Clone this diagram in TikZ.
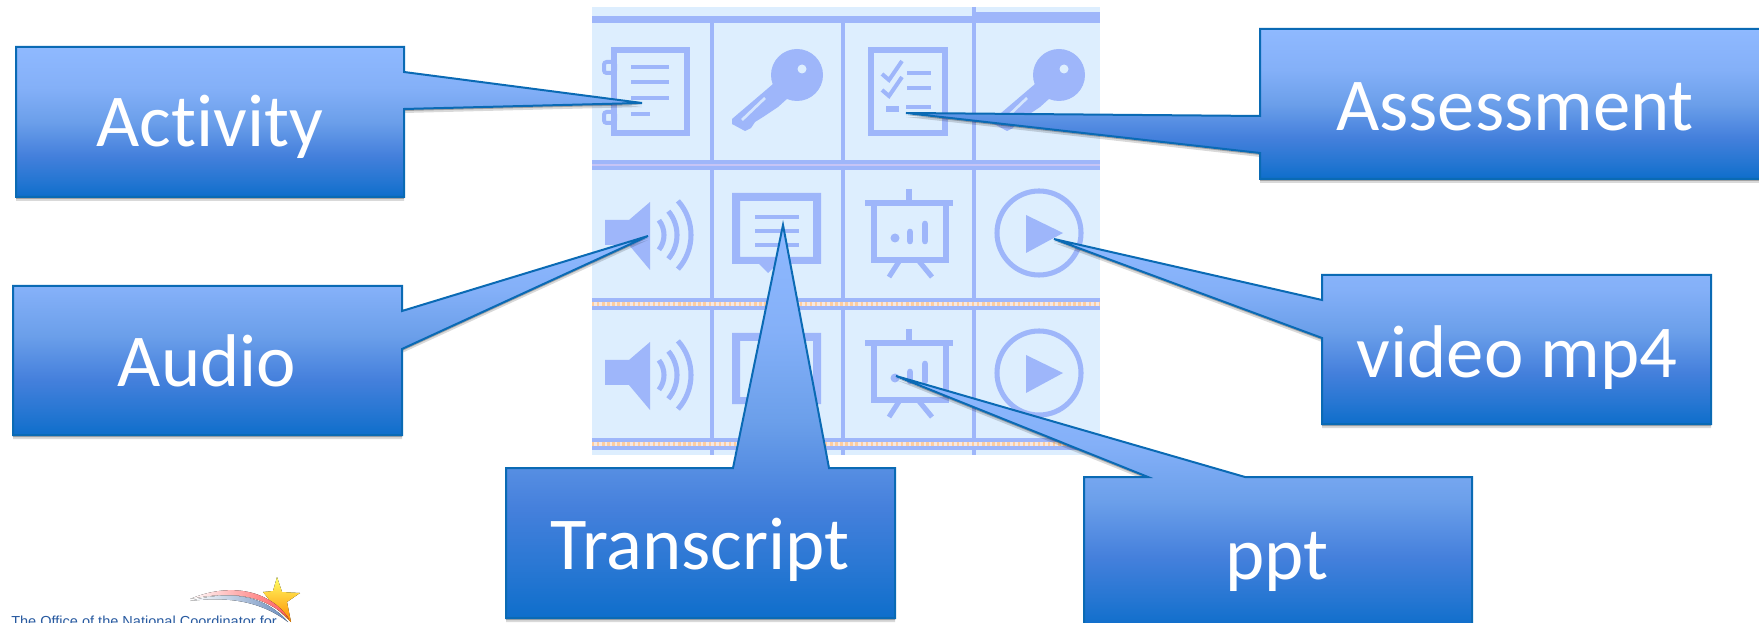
\documentclass[tikz,border=0pt]{standalone}
\usepackage{fontspec}
\setmainfont[Ligatures=NoCommon]{Carlito}
\newfontfamily\logofont{Liberation Sans}
\usetikzlibrary{shadows}

\definecolor{panelblue}{RGB}{221,238,254}
\definecolor{iconblue}{RGB}{158,182,250}
\definecolor{bandlilac}{RGB}{198,196,246}
\definecolor{bandorange}{RGB}{255,205,160}
\definecolor{bandpale}{RGB}{246,232,226}
\definecolor{calloutline}{RGB}{10,106,180}
\definecolor{callouttop}{RGB}{143,185,255}
\definecolor{calloutupper}{RGB}{132,176,248}
\definecolor{calloutmid}{RGB}{107,159,234}
\definecolor{calloutlower}{RGB}{69,128,220}
\definecolor{calloutdeep}{RGB}{37,118,210}
\definecolor{calloutbottom}{RGB}{14,110,203}
\definecolor{logoblue}{RGB}{40,90,160}

\pgfdeclareverticalshading{calloutfill}{100bp}{color(0bp)=(calloutbottom); color(25bp)=(calloutbottom); color(30.5bp)=(calloutdeep); color(39bp)=(calloutlower); color(50bp)=(calloutmid); color(61.5bp)=(calloutupper); color(75bp)=(callouttop); color(100bp)=(callouttop)}

\tikzset{
  callout/.style={draw=calloutline,line width=1.5pt,line join=miter,shade,shading=calloutfill,drop shadow={shadow xshift=0pt,shadow yshift=-3pt,opacity=0.15,fill=black},drop shadow={shadow xshift=0pt,shadow yshift=-1.5pt,opacity=0.25,fill=black}},
  calloutlabel/.style={anchor=base,inner sep=0.75pt,text=white,font=\fontsize{56}{66}\selectfont},
  iconline/.style={draw=iconblue,line width=3.8pt},
  iconthin/.style={draw=iconblue,line width=3pt},
  iconfill/.style={fill=iconblue},
  bandline/.style={draw=iconblue,line width=2.5pt},
}

\newcommand{\drawkey}{
  \fill [iconfill] (794,75) circle (26);
  \fill [iconfill] (770,84) -- (729,119) -- (729,124) -- (742,131) -- (748,128) -- (752,122) -- (760,117) -- (766,113) -- (775,107) -- (785,98) -- cycle;
  \fill [panelblue] (799,69) circle (4.5);
  \draw [panelblue!85!iconblue,line width=2pt] (739,120) -- (762,98);
}
\newcommand{\drawspeaker}{
  \fill [iconfill] (604,220) -- (628,220) -- (649,202) -- (649,270) -- (628,245) -- (604,245) -- cycle;
  \draw [iconline] (639,235) ++(-38:24) arc (-38:38:24);
  \draw [iconline] (639,235) ++(-40:37) arc (-40:40:37);
  \draw [iconline] (639,235) ++(-42:51) arc (-42:42:51);
}
\newcommand{\drawtranscript}{
  \fill [iconfill,even odd rule] (730,193) -- (819,193) -- (819,264) -- (775,264) -- (766,273) -- (757,264) -- (730,264) -- cycle (738,201) -- (738,257) -- (811,257) -- (811,201) -- cycle;
  \draw [iconthin] (753,217) -- (797,217);
  \draw [iconthin] (753,231) -- (797,231);
  \draw [iconthin] (753,245) -- (797,245);
}
\newcommand{\drawboard}{
  \draw [iconline] (860,203) -- (948,203);
  \draw [iconline] (904,189) -- (904,203);
  \draw [iconline] (869,203) -- (869,260) -- (941,260) -- (941,203);
  \draw [iconline] (895,260) -- (884,277);
  \draw [iconline] (913,260) -- (927,277);
  \fill [iconfill] (890,238) circle (4.5);
  \draw [iconline,line width=5pt,line cap=round] (905,232) -- (905,241);
  \draw [iconline,line width=5pt,line cap=round] (920,224) -- (920,241);
}
\newcommand{\drawplay}{
  \draw [iconline] (1033,233) circle (42);
  \fill [iconfill] (1020,215) -- (1057,233) -- (1020,253) -- cycle;
}

\begin{document}
\begin{tikzpicture}[x=0.75pt,y=0.75pt,yscale=-1]
\useasboundingbox (0,0) rectangle (1759,623);

%Shape: Panel
\fill [panelblue] (592,7) rectangle (1100,455);
%Straight Lines: columns
\foreach \colx in {712,843,974} {
  \draw [bandline] (\colx,23) -- (\colx,455);
}
\draw [bandline] (974,7) -- (974,20);
%Shape: Bands
\fill [iconblue] (592,16) rectangle (974,23);
\fill [iconblue] (974,12) rectangle (1100,23);
\fill [iconblue] (592,160) rectangle (1100,170);
\draw [bandlilac,line width=1.8pt] (592,165) -- (1100,165);
\foreach \bandy in {298,438} {
  \fill [iconblue] (592,\bandy) rectangle (1100,\bandy+12);
  \draw [bandpale,line width=2.6pt] (592,\bandy+6) -- (1100,\bandy+6);
  \draw [bandorange,line width=2.6pt,dash pattern=on 1.8pt off 2pt] (592,\bandy+6) -- (1100,\bandy+6);
}

%Shape: Activity icon
\draw [iconline] (614,50) rectangle (687,133);
\draw [iconthin,rounded corners=2pt] (604,62) rectangle (615,73);
\draw [iconthin,rounded corners=2pt] (604,112) rectangle (615,123);
\foreach \liney/\lineend in {67/669,82/669,98/669,114/650} {
  \draw [iconthin] (631,\liney) -- (\lineend,\liney);
}
%Shape: Assessment icon
\draw [iconline] (871,50) rectangle (945,133);
\draw [iconthin] (882,74) -- (889,80) -- (902,61);
\draw [iconthin] (882,90) -- (889,96) -- (902,77);
\draw [iconthin] (907,73) -- (931,73);
\draw [iconthin] (907,88) -- (931,88);
\draw [iconline] (886,109) -- (899,109);
\draw [iconthin] (906,107) -- (931,107);
%Shape: Keys
\begin{scope}[shift={(3,0)}] \drawkey \end{scope}
\begin{scope}[shift={(265,0)}] \drawkey \end{scope}
%Shape: Icons of the two lower rows
\foreach \rowy in {0,140} {
  \begin{scope}[shift={(1,\rowy)}] \drawspeaker \end{scope}
  \begin{scope}[shift={(2,\rowy)}] \drawtranscript \end{scope}
  \begin{scope}[shift={(5,\rowy)}] \drawboard \end{scope}
  \begin{scope}[shift={(6,\rowy)}] \drawplay \end{scope}
}

%Shape: Logo
\begin{scope}
\clip (0,560) rectangle (320,623);
\fill [left color=white,right color=orange!20!yellow!85!orange,top color=yellow!60!white,bottom color=orange!90!yellow] (277,577) -- (282,592) -- (300,593) -- (287,602) -- (291,622) -- (275,607) -- (263,592) -- (273,591) -- cycle;
\fill [left color=white,right color=red!65!white] (190,599) .. controls (230,582) and (270,590) .. (289,619) .. controls (265,596) and (235,590) .. (190,599) -- cycle;
\fill [left color=white,right color=logoblue!70!white] (190,601) .. controls (230,590) and (265,595) .. (288,622) .. controls (262,602) and (230,596) .. (190,601) -- cycle;
\node (logotext) at (11,626) [anchor=base west,inner sep=0pt,text=logoblue,font=\logofont\fontsize{10.9}{13}\selectfont] {The Office of the National Coordinator for};
\end{scope}

%Shape: Activity callout
\draw [callout] (16,47) -- (404,47) -- (404,72) -- (642,103) -- (404,109) -- (404,197) -- (16,197) -- cycle;
%Shape: Assessment callout
\draw [callout] (1260,29) -- (1772,29) -- (1772,179) -- (1260,179) -- (1260,153) -- (906,113) -- (1260,116) -- cycle;
%Shape: Audio callout
\draw [callout] (13,286) -- (402,286) -- (402,311) -- (648,236) -- (402,349) -- (402,435) -- (13,435) -- cycle;
%Shape: video callout
\draw [callout] (1322,275) -- (1711,275) -- (1711,424) -- (1322,424) -- (1322,338) -- (1054,239) -- (1322,300) -- cycle;
%Shape: Transcript callout
\draw [callout] (506,468) -- (733,468) -- (783,225) -- (829,468) -- (895,468) -- (895,618) -- (506,618) -- cycle;
%Shape: ppt callout
\draw [callout] (1084,477) -- (1148,477) -- (896,376) -- (1245,477) -- (1472,477) -- (1472,627) -- (1084,627) -- cycle;

% Text Node
\node (activitylabel) at (210,147) [calloutlabel] {Activity};
% Text Node
\node (assessmentlabel) at (1515,131) [calloutlabel] {Assessment};
% Text Node
\node (audiolabel) at (207,387) [calloutlabel] {Audio};
% Text Node
\node (videolabel) at (1517,378) [calloutlabel] {video mp4};
% Text Node
\node (transcriptlabel) at (700,569) [calloutlabel] {Transcript};
% Text Node
\node (pptlabel) at (1277,579) [calloutlabel] {ppt};

\end{tikzpicture}
\end{document}
